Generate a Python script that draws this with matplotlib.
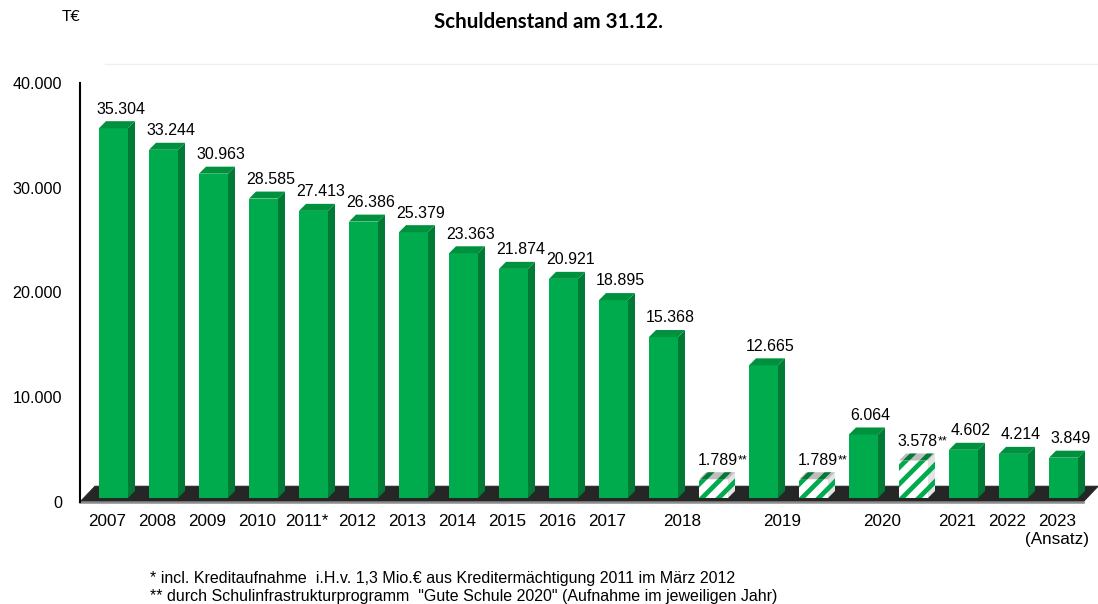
import matplotlib
matplotlib.use('Agg')
import matplotlib.pyplot as plt
from matplotlib.patches import Polygon, Rectangle
from matplotlib.lines import Line2D
from matplotlib.ticker import FuncFormatter

# Schuldenstand in T€, Säulen von links nach rechts
werte = [35304, 33244, 30963, 28585, 27413, 26386, 25379, 23363, 21874, 20921, 18895,
         15368, 1789, 12665, 1789, 6064, 3578, 4602, 4214, 3849]
# Aufnahme "Gute Schule 2020" (schraffiert)
guteSchule = [False] * 12 + [True, False, True, False, True, False, False, False]
jahre = ['2007', '2008', '2009', '2010', '2011*', '2012', '2013', '2014', '2015', '2016',
         '2017', '2018', '2019', '2020', '2021', '2022', '2023\n(Ansatz)']
# welches Jahr zu welcher Säule gehört
jahrDerSaeule = [0, 1, 2, 3, 4, 5, 6, 7, 8, 9, 10, 11, 11, 12, 12, 13, 13, 14, 15, 16]
fussnoten = ['* incl. Kreditaufnahme  i.H.v. 1,3 Mio.€ aus Kreditermächtigung 2011 im März 2012',
             '** durch Schulinfrastrukturprogramm  "Gute Schule 2020" (Aufnahme im jeweiligen Jahr)']

GRUEN = '#00AB4E'
GRUEN_SEITE = '#007A35'
GRUEN_OBEN = '#00913F'

plt.rcParams['font.family'] = ['Liberation Sans', 'DejaVu Sans']
plt.rcParams['hatch.linewidth'] = 3.4

fig = plt.figure(figsize=(10.98, 6.04), dpi=100)
ax = fig.add_axes([80 / 1098, 102 / 604, 1018 / 1098, 419 / 604])
ax.set_xlim(-0.67, 19.69)
ax.set_ylim(0, 40000)

# 3D-Optik: Tiefe der Säulen und des Bodens in Datenkoordinaten
breite = 0.58
tiefeX, tiefeY = 0.14, 670
sockel = 380
bodenX, bodenY = 0.3, 1500

# Boden
links, rechts = -0.67, 19.39
ax.add_patch(Polygon([(links, 0), (rechts, 0), (rechts + bodenX, bodenY), (links + bodenX, bodenY)],
                     closed=True, facecolor='#262626', edgecolor='#262626', lw=0.8, zorder=1))
ax.plot([links, rechts], [0, 0], color='#8a8a8a', lw=1.8, zorder=1.5, clip_on=False)

for i, (w, schraffiert) in enumerate(zip(werte, guteSchule)):
    x0, x1 = i - breite / 2, i + breite / 2
    y0, y1 = sockel, sockel + w
    seite = [(x1, y0), (x1 + tiefeX, y0 + tiefeY), (x1 + tiefeX, y1 + tiefeY), (x1, y1)]
    oben = [(x0, y1), (x1, y1), (x1 + tiefeX, y1 + tiefeY), (x0 + tiefeX, y1 + tiefeY)]
    if schraffiert:
        ax.add_patch(Rectangle((x0, y0), breite, w, facecolor='white', edgecolor=GRUEN,
                               hatch='//', lw=0, zorder=3))
        ax.add_patch(Polygon(seite, closed=True, facecolor='#e4e4e4', edgecolor=GRUEN,
                             hatch='//', lw=0, zorder=3))
        ax.add_patch(Polygon(oben, closed=True, facecolor='#bdbdbd', edgecolor=GRUEN_SEITE,
                             hatch='//', lw=0, zorder=3))
    else:
        ax.add_patch(Rectangle((x0, y0), breite, w, facecolor=GRUEN, lw=0, zorder=3))
        ax.add_patch(Polygon(seite, closed=True, facecolor=GRUEN_SEITE, lw=0, zorder=3))
        ax.add_patch(Polygon(oben, closed=True, facecolor=GRUEN_OBEN, lw=0, zorder=3))

    beschriftung = f'{w:,}'.replace(',', '.')
    dx = 0.08 if schraffiert else 0.14
    t = ax.annotate(beschriftung, xy=(i + dx, y1 + tiefeY), xytext=(0, 5.5),
                    textcoords='offset points', ha='center', va='baseline', fontsize=11.5, zorder=5)
    if schraffiert:
        ax.annotate('**', xy=(1, 0.3), xycoords=t, xytext=(0.3, 0), textcoords='offset points',
                    ha='left', va='baseline', fontsize=9, zorder=5)

# Jahreslabels mittig unter den zugehörigen Säulen
posJahre = []
for j in range(len(jahre)):
    saeulen = [i for i, k in enumerate(jahrDerSaeule) if k == j]
    posJahre.append(sum(saeulen) / len(saeulen) - 0.13)
ax.set_xticks(posJahre, jahre)
ax.tick_params(axis='x', length=0, pad=9, labelsize=12.3)

ax.set_yticks([0, 10000, 20000, 30000, 40000])
ax.yaxis.set_major_formatter(FuncFormatter(lambda v, p: f'{int(v):,}'.replace(',', '.')))
ax.tick_params(axis='y', length=0, pad=13, labelsize=11.6)

for s in ['top', 'right', 'bottom']:
    ax.spines[s].set_visible(False)
ax.spines['left'].set_linewidth(1.5)
ax.spines['left'].set_zorder(6)
ax.patch.set_alpha(0)

fig.text(548 / 1098, 1 - 22 / 604, 'Schuldenstand am 31.12.', ha='center', va='center',
         fontsize=14.8, fontweight='bold', family=['Lato', 'DejaVu Sans'])
fig.text(62 / 1098, 1 - 17 / 604, 'T€', ha='left', va='center', fontsize=11.5,
         family=['Lato', 'DejaVu Sans'])
fig.add_artist(Line2D([105 / 1098, 1], [1 - 64 / 604] * 2, color='#f0f0f0', lw=1))

fig.text(150 / 1098, 1 - 578 / 604, fussnoten[0], ha='left', va='center', fontsize=11.5)
fig.text(150 / 1098, 1 - 596 / 604, fussnoten[1], ha='left', va='center', fontsize=11.5)

plt.savefig('out.png', dpi=100)
plt.close()
